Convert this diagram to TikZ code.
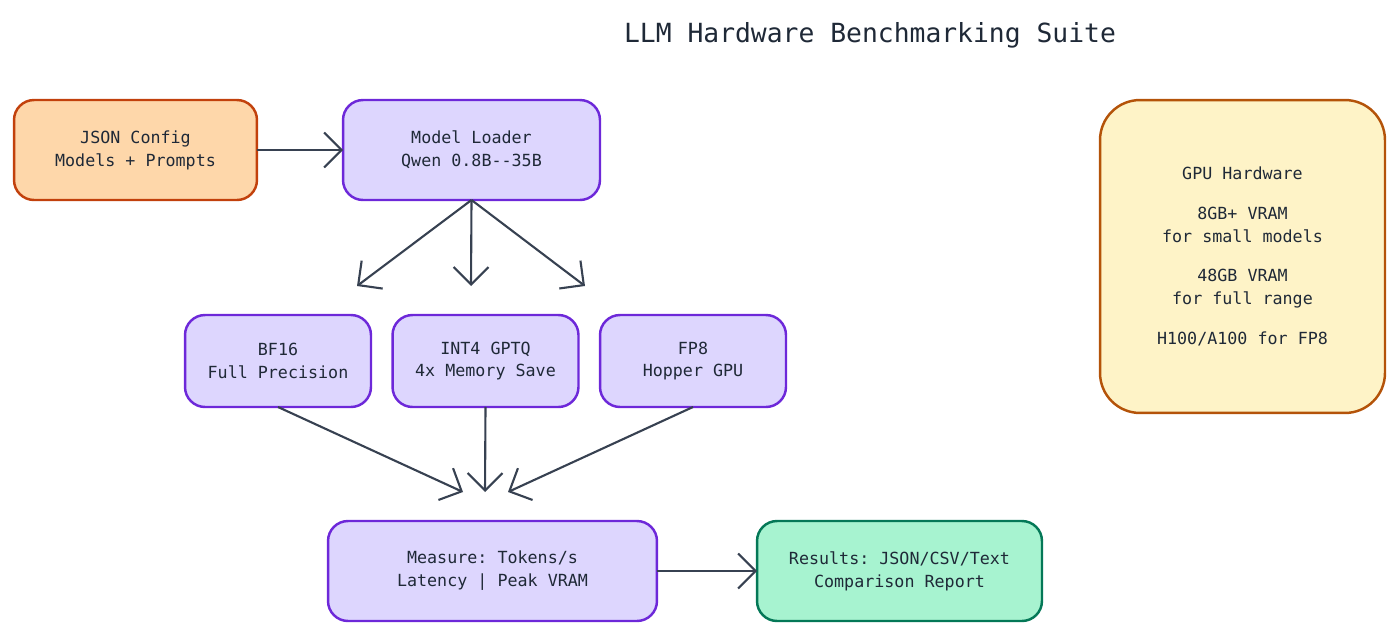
\documentclass[tikz,border=0pt]{standalone}
\usepackage{fontspec}
\setmonofont{DejaVu Sans Mono}
\usetikzlibrary{arrows.meta, positioning}
\definecolor{inkc}{HTML}{1F2937}
\definecolor{linec}{HTML}{374151}
\definecolor{orangef}{HTML}{FED7AA}
\definecolor{oranged}{HTML}{C2410C}
\definecolor{purplef}{HTML}{DDD6FE}
\definecolor{purpled}{HTML}{6D28D9}
\definecolor{yellowf}{HTML}{FEF3C7}
\definecolor{yellowd}{HTML}{B45309}
\definecolor{greenf}{HTML}{A7F3D0}
\definecolor{greend}{HTML}{047857}
\begin{document}
\begin{tikzpicture}[x=0.02cm, y=-0.02cm, font=\ttfamily\fontsize{9.5}{13}\selectfont, text=inkc]
\tikzset{every node/.style={inner sep=1mm, outer sep=0mm}}

\tikzstyle{box}=[rectangle, rounded corners=4mm, line width=1.4pt, align=center]
\tikzstyle{src}=[box, fill=orangef, draw=oranged]
\tikzstyle{stage}=[box, fill=purplef, draw=purpled]
\tikzstyle{hw}=[box, fill=yellowf, draw=yellowd, rounded corners=8mm]
\tikzstyle{result}=[box, fill=greenf, draw=greend]
\tikzstyle{post}=[-{Straight Barb[length=3.5mm, width=7mm]}, line width=1.2pt, draw=linec]

\useasboundingbox (0,0) rectangle (1400,636);

\node[font=\ttfamily\fontsize{15}{18}\selectfont] (title) at (870,35) {LLM Hardware Benchmarking Suite};

\node[src, minimum width=4.86cm, minimum height=2cm] (config) at (135.5,150) {JSON Config\\Models + Prompts};
\node[stage, minimum width=5.14cm, minimum height=2cm] (loader) at (471.5,150) {Model Loader\\Qwen 0.8B--35B};
\node[hw, minimum width=5.7cm, minimum height=6.26cm] (gpu) at (1242.5,256.5)
    {GPU Hardware\\[1em]8GB+ VRAM\\for small models\\[1em]48GB VRAM\\for full range\\[1em]H100/A100 for FP8};

\node[stage, minimum width=3.72cm, minimum height=1.84cm] (bf16) at (278,361) {BF16\\Full Precision};
\node[stage, minimum width=3.72cm, minimum height=1.84cm] (int4) at (485.5,361) {INT4 GPTQ\\4x Memory Save};
\node[stage, minimum width=3.72cm, minimum height=1.84cm] (fp8) at (693,361) {FP8\\Hopper GPU};

\node[stage, minimum width=6.58cm, minimum height=2cm] (measure) at (492.5,571) {Measure: Tokens/s\\Latency | Peak VRAM};
\node[result, minimum width=5.7cm, minimum height=2cm] (results) at (899.5,571) {Results: JSON/CSV/Text\\Comparison Report};

% free arrow ends
\coordinate (to bf16) at (357,286);
\coordinate (to int4) at (471,286);
\coordinate (to fp8) at (585,286);
\coordinate (from bf16) at (463,492);
\coordinate (from int4) at (485,492);
\coordinate (from fp8) at (508,492);

\draw[post] (config) -- (loader);
\draw[post] (loader.south) -- (to bf16);
\draw[post] (loader.south) -- (to int4);
\draw[post] (loader.south) -- (to fp8);
\draw[post] (bf16.south) -- (from bf16);
\draw[post] (int4.south) -- (from int4);
\draw[post] (fp8.south) -- (from fp8);
\draw[post] (measure) -- (results);

\end{tikzpicture}
\end{document}
